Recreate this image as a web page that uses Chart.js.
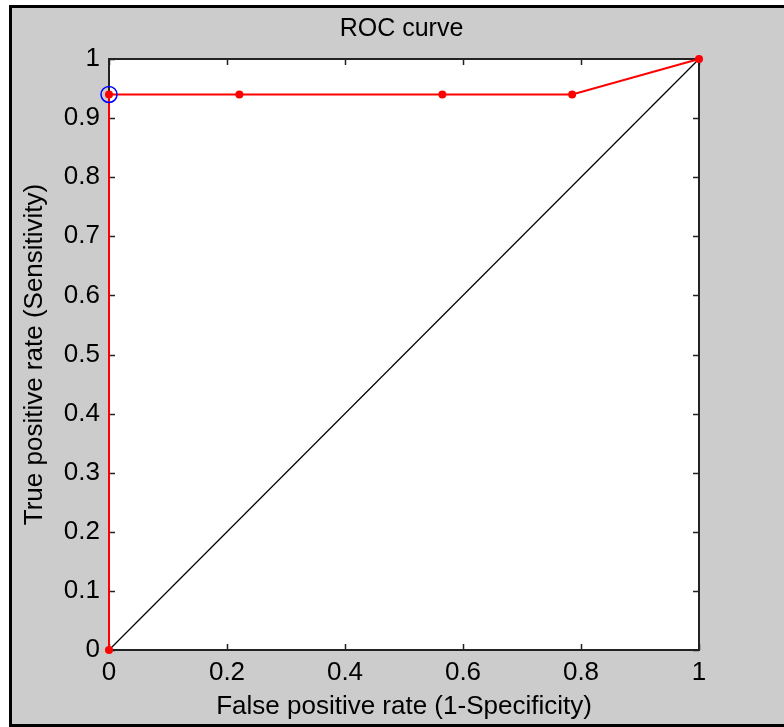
<!DOCTYPE html>
<html>
<head>
<meta charset="utf-8">
<script src="https://cdn.jsdelivr.net/npm/chart.js@4"></script>
<style>
  body { margin: 0; background: #fff; overflow: hidden; }
  #wrap { width: 784px; height: 727px; position: relative; }
</style>
</head>
<body>
<div id="wrap"><canvas id="rocChart"></canvas></div>
<script>
// ROC points
const fpr = [0, 0, 0.221, 0.565, 0.785, 1];
const tpr = [0, 0.94, 0.94, 0.94, 0.94, 1];
// chosen operating point (blue circle)
const bestFpr = [0];
const bestTpr = [0.94];
// chance line
const chanceX = [0, 1];
const chanceY = [0, 1];
// tick labels
const xTicks = [0, 0.2, 0.4, 0.6, 0.8, 1];
const yTicks = [0, 0.1, 0.2, 0.3, 0.4, 0.5, 0.6, 0.7, 0.8, 0.9, 1];

const toPoints = (xs, ys) => xs.map((x, i) => ({ x: x, y: ys[i] }));
const FONT = "'Liberation Sans', Arial, sans-serif";

// figure background, frame and inward ticks like the matlab figure
const matlabFrame = {
    id: 'matlabFrame',
    beforeDraw(chart) {
        const { ctx, chartArea: a } = chart;
        ctx.save();
        ctx.fillStyle = '#ffffff';
        ctx.fillRect(0, 0, chart.width, chart.height);
        ctx.fillStyle = '#000000';
        ctx.fillRect(9, 5, chart.width + 20, chart.height - 5);
        ctx.fillStyle = '#cccccc';
        ctx.fillRect(12, 8, chart.width + 20, chart.height - 11);
        ctx.fillStyle = '#ffffff';
        ctx.fillRect(a.left, a.top, a.right - a.left, a.bottom - a.top);
        ctx.restore();
    },
    beforeDatasetsDraw(chart) {
        const { ctx, chartArea: a, scales } = chart;
        const len = 6;
        ctx.save();
        ctx.strokeStyle = '#222222';
        ctx.lineWidth = 2;
        ctx.strokeRect(a.left, a.top, a.right - a.left, a.bottom - a.top);
        ctx.lineWidth = 1.5;
        ctx.beginPath();
        scales.x.ticks.forEach((t, i) => {
            const px = Math.round(scales.x.getPixelForTick(i)) + 0.5;
            ctx.moveTo(px, a.bottom); ctx.lineTo(px, a.bottom - len);
            ctx.moveTo(px, a.top); ctx.lineTo(px, a.top + len);
        });
        scales.y.ticks.forEach((t, i) => {
            const py = Math.round(scales.y.getPixelForTick(i)) + 0.5;
            ctx.moveTo(a.left, py); ctx.lineTo(a.left + len, py);
            ctx.moveTo(a.right, py); ctx.lineTo(a.right - len, py);
        });
        ctx.stroke();
        ctx.restore();
    }
};

const ctx = document.getElementById('rocChart').getContext('2d');
const rocChart = new Chart(ctx, {
    type: 'scatter',
    data: {
        datasets: [{
            label: 'ROC',
            data: toPoints(fpr, tpr),
            showLine: true,
            borderColor: '#ff0000',
            backgroundColor: '#ff0000',
            borderWidth: 2,
            pointRadius: 4,
            pointBorderWidth: 0,
            clip: false,
            order: 1
        }, {
            label: 'Optimal point',
            data: toPoints(bestFpr, bestTpr),
            showLine: false,
            borderColor: '#0000ff',
            backgroundColor: 'rgba(0,0,0,0)',
            pointRadius: 8,
            pointBorderWidth: 1.5,
            clip: false,
            order: 0
        }, {
            label: 'Chance',
            data: toPoints(chanceX, chanceY),
            showLine: true,
            borderColor: '#000000',
            borderWidth: 1.2,
            pointRadius: 0,
            clip: false,
            order: 2
        }]
    },
    options: {
        responsive: true,
        maintainAspectRatio: false,
        animation: false,
        layout: { padding: { left: 19, right: 0, top: 0, bottom: 0 } },
        plugins: {
            legend: { display: false },
            tooltip: { enabled: false },
            title: {
                display: true,
                text: 'ROC curve',
                color: '#000',
                font: { family: FONT, size: 25, weight: 'normal', lineHeight: 1.2 },
                padding: { top: 14, bottom: 15 }
            }
        },
        scales: {
            x: {
                type: 'linear',
                min: 0, max: 1,
                afterFit: s => { s.height = 77; },
                afterBuildTicks: s => { s.ticks = xTicks.map(v => ({ value: v })); },
                grid: { display: false, drawTicks: false },
                border: { display: false },
                ticks: {
                    padding: 7,
                    color: '#000',
                    maxRotation: 0,
                    font: { family: FONT, size: 26 },
                    callback: v => String(v)
                },
                title: {
                    display: true,
                    text: 'False positive rate (1-Specificity)',
                    color: '#000',
                    font: { family: FONT, size: 26, lineHeight: 1.2 },
                    padding: { top: 0, bottom: 5 }
                }
            },
            y: {
                type: 'linear',
                min: 0, max: 1,
                afterFit: s => { s.width = 90; },
                afterBuildTicks: s => { s.ticks = yTicks.map(v => ({ value: v })); },
                grid: { display: false, drawTicks: false },
                border: { display: false },
                ticks: {
                    padding: 9,
                    color: '#000',
                    font: { family: FONT, size: 26 },
                    callback: v => String(v)
                },
                title: {
                    display: true,
                    text: 'True positive rate (Sensitivity)',
                    color: '#000',
                    font: { family: FONT, size: 26, lineHeight: 1.2 },
                    padding: { top: 0, bottom: 0 }
                }
            },
            y2: {
                type: 'linear',
                position: 'right',
                display: true,
                afterFit: s => { s.width = 85; },
                grid: { display: false, drawTicks: false },
                border: { display: false },
                ticks: { display: false }
            }
        }
    },
    plugins: [matlabFrame]
});
</script>
</body>
</html>
